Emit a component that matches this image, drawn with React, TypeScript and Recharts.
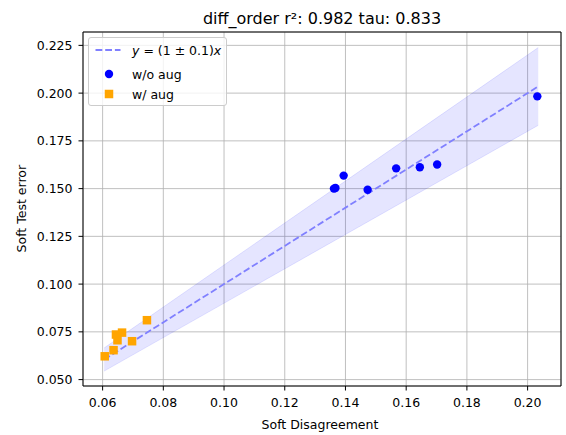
import { Area, CartesianGrid, ComposedChart, Label, Legend, Line, ReferenceLine, Scatter, XAxis, YAxis } from "recharts";

// points
const woAugX = [0.2032, 0.1362, 0.1367, 0.1394, 0.1473, 0.1567, 0.1645, 0.1702];
const woAugY = [0.1983, 0.15, 0.1503, 0.1568, 0.1494, 0.1606, 0.1612, 0.1626];
const wAugX = [0.0607, 0.0636, 0.0644, 0.0664, 0.0649, 0.0697, 0.0746];
const wAugY = [0.0622, 0.0654, 0.0736, 0.0746, 0.0706, 0.0701, 0.0811];

// y = (1 ± 0.1) x reference band
const fitX = [0.0605, 0.2035];
const SLOPE = 1;
const TOL = 0.1;

const xTicks = [0.06, 0.08, 0.1, 0.12, 0.14, 0.16, 0.18, 0.2];
const yTicks = [0.05, 0.075, 0.1, 0.125, 0.15, 0.175, 0.2, 0.225];
const X_DOMAIN: [number, number] = [0.05354, 0.211];
const Y_DOMAIN: [number, number] = [0.04665, 0.232];

const TITLE = "diff_order r²: 0.982 tau: 0.833";
const FONT = "'DejaVu Sans', sans-serif";

const woAug = woAugX.map((x, i) => ({ x, y: woAugY[i] }));
const wAug = wAugX.map((x, i) => ({ x, y: wAugY[i] }));
const band = fitX.map((x) => ({ x, y: SLOPE * x, band: [(SLOPE - TOL) * x, (SLOPE + TOL) * x] }));

const Dot = (p: any) => <circle cx={p.cx} cy={p.cy} r={4.2} fill="#0000ff" />;
const Sq = (p: any) => <rect x={p.cx - 4.25} y={p.cy - 4.25} width={8.5} height={8.5} fill="#ffa500" />;

function LegendBox() {
  const row = (top: number) => ({ position: "absolute" as const, left: 43, top, transform: "translateY(-50%)", whiteSpace: "nowrap" as const });
  return (
    <div
      style={{
        position: "relative",
        boxSizing: "border-box",
        width: 139,
        height: 69,
        border: "1px solid #cccccc",
        borderRadius: 3,
        background: "rgba(255,255,255,0.8)",
        fontFamily: FONT,
        fontSize: 12.5,
        color: "#000",
      }}
    >
      <svg width={40} height={69} style={{ position: "absolute", left: 0, top: 0 }}>
        <line x1={6.5} y1={12} x2={31.5} y2={12} stroke="#8080ff" strokeWidth={1.8} strokeDasharray="6.8 2.9" />
        <circle cx={20} cy={36} r={4.2} fill="#0000ff" />
        <rect x={15.75} y={51.75} width={8.5} height={8.5} fill="#ffa500" />
      </svg>
      <div style={row(12)}>
        <i>y</i> = (1 ± 0.1)<i>x</i>
      </div>
      <div style={row(36)}>w/o aug</div>
      <div style={row(56)}>w/ aug</div>
    </div>
  );
}

export default function App() {
  return (
    <div style={{ position: "absolute", left: 0, top: 0, width: 566, height: 435, background: "#fff" }}>
      <div
        style={{
          position: "absolute",
          left: 83,
          width: 478,
          top: 10.5,
          textAlign: "center",
          fontFamily: FONT,
          fontSize: 16,
          lineHeight: "16px",
          whiteSpace: "nowrap",
        }}
      >
        {TITLE}
      </div>
      <ComposedChart width={566} height={435} data={band} margin={{ top: 32, right: 5, bottom: 5, left: 0 }}>
        <CartesianGrid stroke="#b0b0b0" strokeWidth={0.8} />
        <XAxis
          type="number"
          dataKey="x"
          domain={X_DOMAIN}
          ticks={xTicks}
          allowDataOverflow
          height={44}
          tickSize={4.5}
          tickMargin={7.5}
          tickFormatter={(v: number) => v.toFixed(2)}
          tick={{ fill: "#000", fontSize: 12.5, fontFamily: FONT }}
          stroke="#000"
        >
          <Label
            content={() => (
              <text x={320} y={429} textAnchor="middle" fontFamily={FONT} fontSize={12.5} fill="#000">
                Soft Disagreement
              </text>
            )}
          />
        </XAxis>
        <YAxis
          type="number"
          domain={Y_DOMAIN}
          ticks={yTicks}
          allowDataOverflow
          width={83}
          tickSize={4.5}
          tickMargin={6}
          tickFormatter={(v: number) => v.toFixed(3)}
          tick={{ fill: "#000", fontSize: 12.5, fontFamily: FONT }}
          stroke="#000"
        >
          <Label
            content={() => (
              <text
                x={26}
                y={208.7}
                transform="rotate(-90 26 208.7)"
                textAnchor="middle"
                fontFamily={FONT}
                fontSize={12.5}
                fill="#000"
              >
                Soft Test error
              </text>
            )}
          />
        </YAxis>
        <ReferenceLine x={X_DOMAIN[1]} stroke="#000" strokeWidth={1} />
        <ReferenceLine y={Y_DOMAIN[1]} stroke="#000" strokeWidth={1} />
        <Area
          dataKey="band"
          type="linear"
          fill="#0000ff"
          fillOpacity={0.1}
          stroke="#0000ff"
          strokeOpacity={0.1}
          isAnimationActive={false}
        />
        <Line
          dataKey="y"
          type="linear"
          stroke="#8080ff"
          strokeWidth={1.8}
          strokeDasharray="6.8 2.9"
          dot={false}
          activeDot={false}
          isAnimationActive={false}
        />
        <Scatter name="w/o aug" data={woAug} dataKey="y" shape={Dot} isAnimationActive={false} />
        <Scatter name="w/ aug" data={wAug} dataKey="y" shape={Sq} isAnimationActive={false} />
        <Legend
          verticalAlign="middle"
          align="center"
          layout="horizontal"
          wrapperStyle={{ left: 88, top: 37, width: 139, height: 69 }}
          content={() => <LegendBox />}
        />
      </ComposedChart>
    </div>
  );
}
